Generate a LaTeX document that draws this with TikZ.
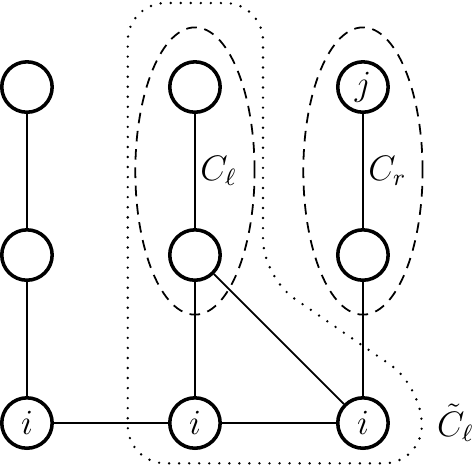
\documentclass[tikz,border=0pt]{standalone}
\usepackage{amssymb}
\usepackage{amsmath}
\usetikzlibrary{positioning,calc}
\tikzset{vertex/.style={circle, draw, very thick, minimum size=0.6cm, inner sep=0pt},
cluster/.style={dash pattern=on 3.6pt off 2.6pt, semithick},
hull/.style={line width=0.9pt, line cap=round, dash pattern=on 0pt off 3.4pt}}

\begin{document}
\begin{tikzpicture}[font=\large]
        \useasboundingbox (-0.321,-0.512) rectangle (5.310,5.036);
        \node[vertex] (a1) at (0, 4) {};
        \node[vertex] (a2) at (0, 2) {};
        \node[vertex] (a3) at (0, 0) {$i$};
        \node[vertex] (b1) at (2, 4) {};
        \node[vertex] (b2) at (2, 2) {};
        \node[vertex] (b3) at (2, 0) {$i$};
        \node[vertex] (c1) at (4, 4) {$j$};
        \node[vertex] (c2) at (4, 2) {};
        \node[vertex] (c3) at (4, 0) {$i$};

        \draw[semithick] (a1) -- (a2) -- (a3) -- (b3) -- (c3)
              (b1) -- node[right, inner sep=1.5pt] {$C_\ell$} (b2) -- (b3)
              (c1) -- node[right, inner sep=1.5pt] {$C_r$} (c2) -- (c3)
              (b2) -- (c3);

        % components
        \draw[cluster] (2, 3) ellipse (0.71 and 1.71);
        \draw[cluster] (4, 3) ellipse (0.71 and 1.71);

        \draw[hull, rounded corners=0.45cm] (1.2, 2) -- (1.2, 5) -- (2.81, 5) -- (2.81, 1.74)
              -- (4.70, 0.435) -- (4.70, -0.48) -- (1.2, -0.48) -- cycle;
        \node[anchor=west] (hl) at (4.76, 0) {$\tilde{C}_\ell$};
    \end{tikzpicture}
\end{document}
